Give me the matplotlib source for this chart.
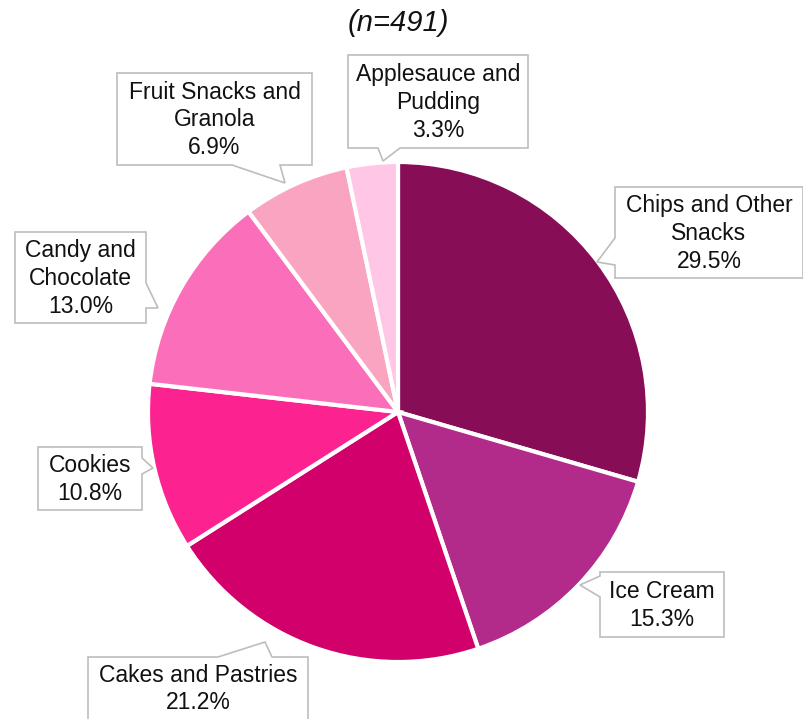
import matplotlib
matplotlib.use("Agg")
import matplotlib.pyplot as plt
from matplotlib.patches import Polygon

plt.rcParams['font.family'] = ['Liberation Sans', 'DejaVu Sans']

# Snack categories and their shares (%)
categories = ["Chips and Other\nSnacks", "Ice Cream", "Cakes and Pastries", "Cookies",
              "Candy and\nChocolate", "Fruit Snacks and\nGranola", "Applesauce and\nPudding"]
shares = [29.5, 15.3, 21.2, 10.8, 13.0, 6.9, 3.3]
colors = ["#880d57", "#b22a8a", "#d1006b", "#fc2290", "#fb6fba", "#f9a5c1", "#ffc6e6"]
title = "(n=491)"

W, H = 804, 719
fig = plt.figure(figsize=(W / 100, H / 100), dpi=100)
ax = fig.add_axes([0, 0, 1, 1])

cx, cy, r = 398, 412, 250
ax.pie(shares, colors=colors, startangle=-90, counterclock=True,
       center=(cx, cy), radius=r,
       wedgeprops=dict(edgecolor="white", linewidth=3))
ax.set_xlim(0, W)
ax.set_ylim(H, 0)
ax.set_aspect("equal")
ax.axis("off")

# callout boxes: (x0, y0, x1, y1), side, pointer base (a, b), tip
callouts = [
    ((615, 187, 803, 278), "left", (238, 265), (597, 262)),
    ((600, 572, 724, 637), "left", (576, 597), (580, 585)),
    ((88, 657, 308, 740), "top", (218, 272), (265, 642)),
    ((38, 447, 142, 510), "right", (458, 474), (153, 468)),
    ((15, 232, 146, 323), "right", (283, 308), (158, 308)),
    ((117, 73, 312, 165), "bottom", (232, 280), (285, 183)),
    ((348, 55, 528, 148), "bottom", (378, 400), (383, 161)),
]


def callout_path(box, side, base, tip):
    x0, y0, x1, y1 = box
    a, b = base
    if side == "left":
        return [(x0, y0), (x1, y0), (x1, y1), (x0, y1), (x0, b), tip, (x0, a)]
    if side == "right":
        return [(x0, y0), (x1, y0), (x1, a), tip, (x1, b), (x1, y1), (x0, y1)]
    if side == "top":
        return [(x0, y0), (a, y0), tip, (b, y0), (x1, y0), (x1, y1), (x0, y1)]
    return [(x0, y0), (x1, y0), (x1, y1), (b, y1), tip, (a, y1), (x0, y1)]


for label, share, (box, side, base, tip) in zip(categories, shares, callouts):
    poly = Polygon(callout_path(box, side, base, tip), closed=True,
                   facecolor="white", edgecolor="#bdbdbd", linewidth=1.2, zorder=5)
    ax.add_patch(poly)
    x0, y0, x1, y1 = box
    yc = (y0 + min(y1, H)) / 2
    ax.text((x0 + x1) / 2, yc + 1, f"{label}\n{share:.1f}%", ha="center", va="center",
            fontsize=16.5, color="#111111", linespacing=1.26, zorder=6)

ax.text(cx, 23, title, ha="center", va="center", fontsize=21, style="italic",
        color="#111111")

fig.savefig("out.png", dpi=100)
